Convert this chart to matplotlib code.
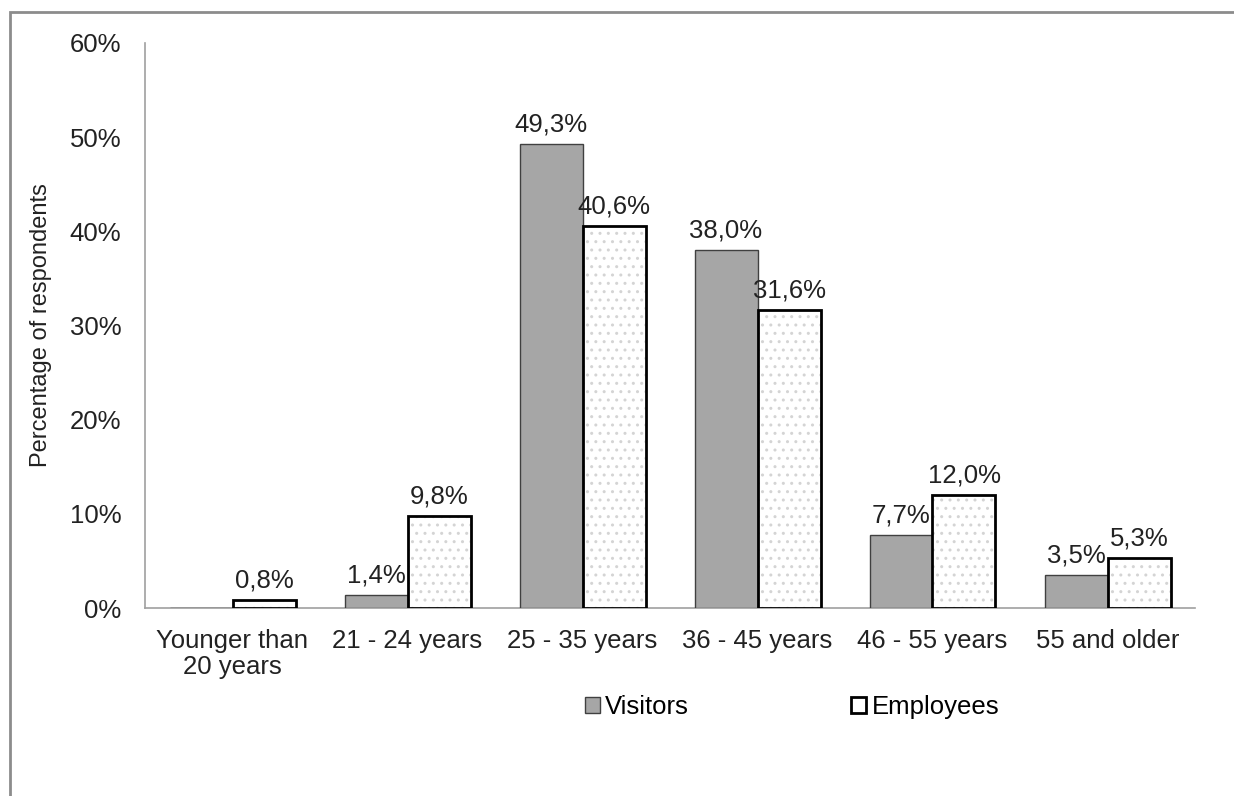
import matplotlib
matplotlib.use("Agg")
import matplotlib.pyplot as plt
import numpy as np
from matplotlib.patches import Patch, Rectangle

categories = ["Younger than\n20 years", "21 - 24 years", "25 - 35 years",
              "36 - 45 years", "46 - 55 years", "55 and older"]
visitors = [0.0, 1.4, 49.3, 38.0, 7.7, 3.5]
employees = [0.8, 9.8, 40.6, 31.6, 12.0, 5.3]
vis_labels = [None, "1,4%", "49,3%", "38,0%", "7,7%", "3,5%"]
emp_labels = ["0,8%", "9,8%", "40,6%", "31,6%", "12,0%", "5,3%"]
yticks = [0, 10, 20, 30, 40, 50, 60]

plt.rcParams['font.family'] = ['Liberation Sans', 'DejaVu Sans']
W, H = 1234, 796
fig = plt.figure(figsize=(W / 100, H / 100), dpi=100)
ax = fig.add_axes([145 / W, 1 - 608 / H, (1195 - 145) / W, (608 - 43) / H])

x = np.arange(len(categories))
bw = 0.36
ax.bar(x - bw / 2, visitors, bw, color="#a6a6a6", edgecolor="#404040", linewidth=1.0, zorder=3)
ax.bar(x + bw / 2, employees, bw, color="white", edgecolor="#d4d4d4", hatch="..", linewidth=0, zorder=3)
ax.bar(x + bw / 2, employees, bw, color="none", edgecolor="black", linewidth=2.0, zorder=4)

fs = 18.5
tc = "#222222"
for i in range(len(categories)):
    if vis_labels[i] and visitors[i] > 0:
        ax.text(x[i] - bw / 2, visitors[i] + 0.8, vis_labels[i], ha="center", va="bottom", fontsize=fs, color=tc)
    ax.text(x[i] + bw / 2, employees[i] + 0.8, emp_labels[i], ha="center", va="bottom", fontsize=fs, color=tc)

ax.set_xlim(-0.5, len(categories) - 0.5)
ax.set_ylim(0, 60)
ax.set_yticks(yticks)
ax.set_yticklabels([f"{v}%" for v in yticks], fontsize=fs, color=tc)
ax.set_xticks(x)
ax.set_xticklabels(categories, fontsize=fs, color=tc, linespacing=1.12)
ax.tick_params(axis="y", length=0, pad=17)
ax.tick_params(axis="x", length=0, pad=15)
for s in ["top", "right"]:
    ax.spines[s].set_visible(False)
for s in ["left", "bottom"]:
    ax.spines[s].set_color("#a0a0a0")
    ax.spines[s].set_linewidth(1.2)
ax.set_ylabel("Percentage of respondents", fontsize=17, color=tc)
ax.yaxis.set_label_coords(-0.0886, 0.5)

handles = [Patch(facecolor="#a6a6a6", edgecolor="#404040", linewidth=1.0),
           Patch(facecolor="white", edgecolor="black", linewidth=2.0)]
fig.legend(handles, ["Visitors", "Employees"], loc="center", bbox_to_anchor=(792 / W, 1 - 707 / H),
           ncol=2, frameon=False, fontsize=fs, handlelength=0.6, handleheight=0.6,
           handletextpad=0.2, columnspacing=6.3)

fig.patches.append(Rectangle((10 / W, -0.1), 2.0, 1 - 12 / H + 0.1, transform=fig.transFigure,
                             fill=False, edgecolor="#8c8c8c", linewidth=2.0))

fig.savefig("out.png", dpi=100)
